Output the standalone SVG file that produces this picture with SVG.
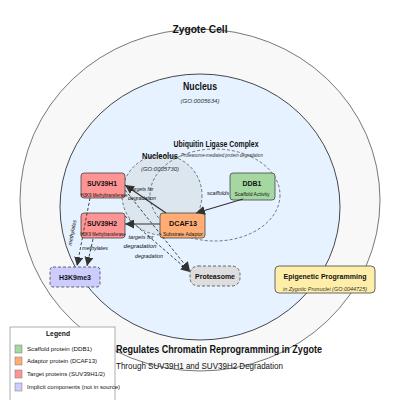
<svg xmlns="http://www.w3.org/2000/svg" width="400" height="400" viewBox="0 0 400 400">
<defs>
<marker id="ah" viewBox="0 0 10 10" refX="10" refY="5" markerWidth="9" markerHeight="9" markerUnits="userSpaceOnUse" orient="auto">
<path d="M0,0 L10,5 L0,10 z" fill="#333"/>
</marker>
<style>
text{font-family:"Liberation Sans",Arial,sans-serif;fill:#111}
.b{font-weight:bold}
.i{font-style:italic;fill:#333}
.node{stroke:#444;stroke-width:0.8}
.dash{stroke-dasharray:3,2}
.solid{stroke:#333;stroke-width:1.2;fill:none}
.dl{stroke:#333;stroke-width:0.9;fill:none;stroke-dasharray:3,2}
</style>
</defs>
<rect width="400" height="400" fill="#fff"/>
<g id="zygote">
<ellipse cx="200" cy="200" rx="180" ry="171" fill="#f8f8f8" stroke="#555" stroke-width="0.8"/>
<text x="200" y="33" class="b" font-size="11" text-anchor="middle" textLength="55" lengthAdjust="spacingAndGlyphs">Zygote Cell</text>
</g>
<g id="nucleus">
<ellipse cx="200" cy="207" rx="140" ry="133" fill="#e6f2ff" stroke="#333" stroke-width="0.9"/>
<text x="200" y="90" class="b" font-size="10.5" text-anchor="middle" textLength="34" lengthAdjust="spacingAndGlyphs">Nucleus</text>
<text x="200" y="103" class="i" font-size="5.5" text-anchor="middle" textLength="39" lengthAdjust="spacingAndGlyphs">(GO:0005634)</text>
</g>
<g id="nucleolus">
<circle cx="162" cy="195" r="40" fill="#dce6ef" stroke="#555" stroke-width="0.8" class="dash"/>
</g>
<g id="ubiquitin-complex">
<ellipse cx="215" cy="195" rx="65" ry="46" fill="none" stroke="#555" stroke-width="0.8" class="dash"/>
<text x="216" y="147" class="b" font-size="8.5" text-anchor="middle" textLength="85" lengthAdjust="spacingAndGlyphs">Ubiquitin Ligase Complex</text>
<text x="222" y="157" class="i" font-size="5.5" text-anchor="middle" textLength="82" lengthAdjust="spacingAndGlyphs">Proteasome-mediated protein degradation</text>
</g>
<g id="nucleolus-label">
<text x="160" y="159" class="b" font-size="8.5" text-anchor="middle" textLength="36" lengthAdjust="spacingAndGlyphs">Nucleolus</text>
<text x="160" y="171" class="i" font-size="5.5" text-anchor="middle" textLength="38" lengthAdjust="spacingAndGlyphs">(GO:0005730)</text>
</g>
<g id="suv39h1">
<rect x="81" y="173" width="44" height="25" rx="3" fill="#ff9494" class="node"/>
<text x="102" y="186" class="b" font-size="8" text-anchor="middle" textLength="30" lengthAdjust="spacingAndGlyphs">SUV39H1</text>
<text x="104" y="197" font-size="4.8" text-anchor="middle" textLength="47" lengthAdjust="spacingAndGlyphs">H3K9 Methyltransferase</text>
</g>
<g id="suv39h2">
<rect x="81" y="213" width="44" height="25" rx="3" fill="#ff9494" class="node"/>
<text x="102" y="226" class="b" font-size="8" text-anchor="middle" textLength="30" lengthAdjust="spacingAndGlyphs">SUV39H2</text>
<text x="103" y="236" font-size="4.8" text-anchor="middle" textLength="45" lengthAdjust="spacingAndGlyphs">H3K9 Methyltransferase</text>
</g>
<g id="dcaf13">
<rect x="160" y="213" width="45" height="25" rx="3" fill="#ffad75" class="node"/>
<text x="183" y="226" class="b" font-size="8" text-anchor="middle" textLength="28" lengthAdjust="spacingAndGlyphs">DCAF13</text>
<text x="183" y="236" font-size="4.8" text-anchor="middle" textLength="40" lengthAdjust="spacingAndGlyphs">Substrate Adaptor</text>
</g>
<g id="ddb1">
<rect x="230" y="173" width="45" height="27" rx="3" fill="#a5d8a0" class="node"/>
<text x="252" y="186" class="b" font-size="8" text-anchor="middle" textLength="19" lengthAdjust="spacingAndGlyphs">DDB1</text>
<text x="252" y="196" font-size="4.8" text-anchor="middle" textLength="35" lengthAdjust="spacingAndGlyphs">Scaffold Activity</text>
</g>
<g id="h3k9me3">
<rect x="50" y="267" width="50" height="20" rx="3" fill="#ccccff" class="node dash"/>
<text x="75" y="279.5" class="b" font-size="7.5" text-anchor="middle" textLength="32" lengthAdjust="spacingAndGlyphs">H3K9me3</text>
</g>
<g id="proteasome">
<rect x="190" y="266" width="50" height="20" rx="8" fill="#dddddd" class="node dash"/>
<text x="215" y="279" class="b" font-size="7.5" text-anchor="middle" textLength="40" lengthAdjust="spacingAndGlyphs">Proteasome</text>
</g>
<g id="epigenetic-programming">
<rect x="275" y="266" width="100" height="27" rx="4" fill="#ffeeaa" class="node"/>
<text x="325" y="279" class="b" font-size="7.5" text-anchor="middle" textLength="83" lengthAdjust="spacingAndGlyphs">Epigenetic Programming</text>
<text x="325" y="291" class="i" font-size="5" text-anchor="middle" textLength="84" lengthAdjust="spacingAndGlyphs">in Zygotic Pronuclei (GO:0044725)</text>
</g>
<g id="connectors">
<line x1="243" y1="199" x2="196" y2="213" class="solid" marker-end="url(#ah)"/>
<line x1="166" y1="213" x2="125" y2="185" class="solid" marker-end="url(#ah)"/>
<line x1="160" y1="224" x2="125" y2="224" class="solid" marker-end="url(#ah)"/>
<line x1="125" y1="190" x2="190" y2="271" class="dl" marker-end="url(#ah)"/>
<line x1="125" y1="216" x2="190" y2="272" class="dl" marker-end="url(#ah)"/>
<line x1="90" y1="198" x2="77" y2="266" class="dl" marker-end="url(#ah)"/>
<line x1="93" y1="239" x2="87" y2="266" class="dl" marker-end="url(#ah)"/>
<g class="i" font-size="5.5">
<text x="229" y="195" text-anchor="end" textLength="22" lengthAdjust="spacingAndGlyphs">scaffolds</text>
<text x="142" y="191" text-anchor="middle" textLength="23" lengthAdjust="spacingAndGlyphs">targets for</text>
<text x="142" y="200" text-anchor="middle" textLength="28" lengthAdjust="spacingAndGlyphs">degradation</text>
<text x="141" y="238.5" text-anchor="middle" textLength="25" lengthAdjust="spacingAndGlyphs">targets for</text>
<text x="140" y="248" text-anchor="middle" textLength="33" lengthAdjust="spacingAndGlyphs">degradation</text>
<text x="149" y="258" text-anchor="middle" textLength="28" lengthAdjust="spacingAndGlyphs">degradation</text>
<text x="95" y="250" text-anchor="middle" textLength="26" lengthAdjust="spacingAndGlyphs">methylates</text>
<text x="0" y="0" text-anchor="middle" textLength="26" lengthAdjust="spacingAndGlyphs" transform="translate(74,233) rotate(-79)">methylates</text>
</g>
</g>
<g id="summary">
<text x="116" y="353" class="b" font-size="10.5" textLength="206" lengthAdjust="spacingAndGlyphs">Regulates Chromatin Reprogramming in Zygote</text>
<text x="116" y="369" font-size="8.5" textLength="167" lengthAdjust="spacingAndGlyphs">Through SUV39H1 and SUV39H2 Degradation</text>
</g>
<g id="legend">
<rect x="10" y="327" width="105" height="80" fill="#fff" stroke="#999" stroke-width="0.8"/>
<text x="58" y="336" class="b" font-size="7" text-anchor="middle" textLength="24" lengthAdjust="spacingAndGlyphs">Legend</text>
<rect x="15" y="345" width="7" height="8" fill="#a5d8a0" stroke="#777" stroke-width="0.5"/>
<rect x="15" y="357" width="7" height="8" fill="#ffad75" stroke="#777" stroke-width="0.5"/>
<rect x="15" y="370" width="7" height="8" fill="#ff9494" stroke="#777" stroke-width="0.5"/>
<rect x="15" y="383" width="7" height="8" fill="#ccccff" stroke="#777" stroke-width="0.5"/>
<text x="27" y="351" font-size="5.8" textLength="65" lengthAdjust="spacingAndGlyphs">Scaffold protein (DDB1)</text>
<text x="27" y="363" font-size="5.8" textLength="70" lengthAdjust="spacingAndGlyphs">Adaptor protein (DCAF13)</text>
<text x="27" y="376" font-size="5.8" textLength="78" lengthAdjust="spacingAndGlyphs">Target proteins (SUV39H1/2)</text>
<text x="27" y="389" font-size="5.8" textLength="93" lengthAdjust="spacingAndGlyphs">Implicit components (not in source)</text>
</g>
</svg>
